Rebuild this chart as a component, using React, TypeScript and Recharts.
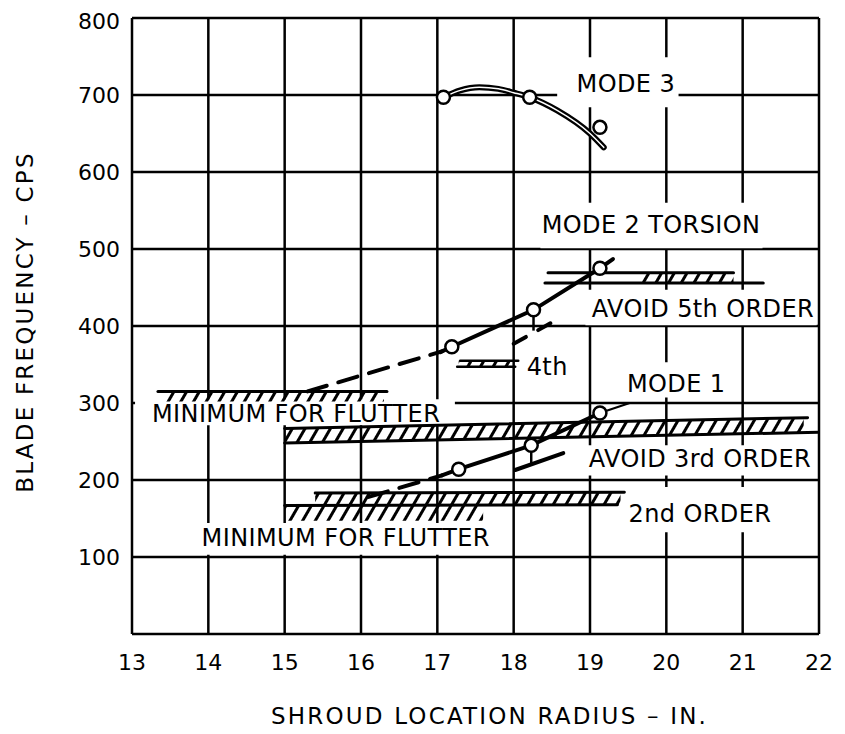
import {
  ComposedChart,
  Line,
  Area,
  Scatter,
  XAxis,
  YAxis,
  CartesianGrid,
  ReferenceArea,
  ReferenceDot,
  ReferenceLine,
  Label,
} from 'recharts'

const FONT = '"DejaVu Sans", sans-serif'

const xTicks = [13, 14, 15, 16, 17, 18, 19, 20, 21, 22]
const yTicks = [0, 100, 200, 300, 400, 500, 600, 700, 800]

// test points (open circles)
const mode3Points = [
  { x: 17.08, y: 697 },
  { x: 18.21, y: 697 },
  { x: 19.13, y: 658 },
]
const mode2Points = [
  { x: 17.19, y: 373 },
  { x: 18.26, y: 421 },
  { x: 19.13, y: 475 },
]
const mode1Points = [
  { x: 17.28, y: 214 },
  { x: 18.23, y: 245 },
  { x: 19.13, y: 287 },
]

// faired curves
const mode3Curve = [
  { x: 17.08, y: 697 },
  { x: 17.3, y: 706 },
  { x: 17.55, y: 710 },
  { x: 17.8, y: 708 },
  { x: 18.0, y: 703 },
  { x: 18.21, y: 697 },
  { x: 18.57, y: 680 },
  { x: 19.0, y: 650 },
  { x: 19.18, y: 632 },
]
const mode2Dashed = [
  { x: 15.3, y: 315 },
  { x: 17.06, y: 367 },
]
const mode2Solid = [
  { x: 17.04, y: 366 },
  { x: 17.19, y: 373 },
  { x: 18.26, y: 421 },
  { x: 19.13, y: 475 },
  { x: 19.3, y: 487 },
]
const mode2Lower = [
  { x: 18.0, y: 377 },
  { x: 18.6, y: 410 },
]
const mode2Drop = [
  { x: 18.26, y: 415 },
  { x: 18.26, y: 394 },
]
const mode1Dashed = [
  { x: 16.1, y: 178 },
  { x: 17.06, y: 206 },
]
const mode1Solid = [
  { x: 17.06, y: 206 },
  { x: 17.28, y: 214 },
  { x: 18.23, y: 245 },
  { x: 19.13, y: 287 },
]
const mode1Tail = [
  { x: 19.13, y: 287 },
  { x: 19.52, y: 300 },
]
const mode1Lower = [
  { x: 18.02, y: 213 },
  { x: 18.65, y: 235 },
]
const mode1Drop = [
  { x: 18.23, y: 240 },
  { x: 18.23, y: 222 },
]

// excitation / flutter limits
const flutterUpperLine = [
  { x: 13.34, y: 315 },
  { x: 16.34, y: 315 },
]
const flutterUpperHatch = [
  { x: 13.4, range: [302, 315] },
  { x: 16.3, range: [302, 315] },
]
const order3Top = [
  { x: 15.0, y: 267 },
  { x: 21.85, y: 281 },
]
const order3Bottom = [
  { x: 15.0, y: 248 },
  { x: 22.0, y: 262 },
]
const order3Hatch = [
  { x: 15.0, range: [248, 267] },
  { x: 21.8, range: [261, 281] },
]
const order2Top = [
  { x: 15.4, y: 183 },
  { x: 19.45, y: 184 },
]
const order2Bottom = [
  { x: 15.0, y: 167 },
  { x: 19.36, y: 168 },
]
const order2Hatch = [
  { x: 15.4, range: [167, 183] },
  { x: 19.4, range: [168, 184] },
]
const flutterLowerHatch = [
  { x: 15.0, range: [147, 167] },
  { x: 17.6, range: [147, 167] },
]
const order5Top = [
  { x: 18.45, y: 469 },
  { x: 20.88, y: 469 },
]
const order5Bottom = [
  { x: 18.41, y: 456 },
  { x: 21.27, y: 456 },
]
const order5Hatch = [
  { x: 19.66, range: [456, 469] },
  { x: 20.88, range: [456, 469] },
]
const order4Top = [
  { x: 17.3, y: 355 },
  { x: 18.06, y: 355 },
]
const order4Bottom = [
  { x: 17.26, y: 347 },
  { x: 18.02, y: 347 },
]
const order4Hatch = [
  { x: 17.28, range: [347, 355] },
  { x: 18.04, range: [347, 355] },
]

// text labels: [text, x, y] and their white boxes [x1, x2, y1, y2]
const labels: [string, number, number][] = [
  ['MODE 3', 19.47, 715],
  ['MODE 2 TORSION', 19.8, 532],
  ['AVOID 5th ORDER', 20.48, 423],
  ['4th', 18.44, 347],
  ['MODE 1', 20.13, 326],
  ['AVOID 3rd ORDER', 20.44, 228],
  ['2nd ORDER', 20.44, 156],
  ['MINIMUM FOR FLUTTER', 15.15, 286],
  ['MINIMUM FOR FLUTTER', 15.8, 125],
]
const labelBoxes: [number, number, number, number][] = [
  [18.57, 20.16, 684, 749],
  [18.35, 21.26, 501, 560],
  [18.94, 21.97, 401, 447],
  [18.11, 18.74, 335, 358],
  [19.4, 20.84, 307, 353],
  [18.87, 21.97, 206, 245],
  [19.4, 21.43, 132, 191],
  [13.04, 17.23, 271, 305],
  [13.69, 17.89, 103, 144],
]

const Ring = (props: any) => (
  <circle cx={props.cx} cy={props.cy} r={6.5} fill="#fff" stroke="#000" strokeWidth={2.5} />
)

const solid = { stroke: '#000', strokeWidth: 4, strokeLinecap: 'round' as const }
const edge = { stroke: '#000', strokeWidth: 3, strokeLinecap: 'round' as const }

export default function App() {
  const common = { dot: false, activeDot: false, isAnimationActive: false, type: 'linear' as const, dataKey: 'y' }
  const hatch = { dataKey: 'range', stroke: 'none', fill: 'url(#hatch)', fillOpacity: 1, isAnimationActive: false, activeDot: false, dot: false }
  return (
    <div style={{ fontFamily: FONT }}>
      <ComposedChart width={837} height={726} margin={{ top: 10, right: 26, left: 0, bottom: 0 }}>
        <defs>
          <pattern id="hatch" patternUnits="userSpaceOnUse" width="11" height="11" patternTransform="rotate(30)">
            <line x1="5.5" y1="0" x2="5.5" y2="11" stroke="#000" strokeWidth="3" />
          </pattern>
        </defs>
        <CartesianGrid stroke="#000" strokeWidth={2.5} />
        <XAxis
          type="number"
          dataKey="x"
          domain={[13, 22]}
          ticks={xTicks}
          allowDataOverflow
          axisLine={false}
          tickLine={false}
          tickSize={0}
          tickMargin={20}
          height={100}
          tick={{ fill: '#000', fontSize: 22, fontFamily: FONT }}
        >
          <Label
            value="SHROUD LOCATION RADIUS – IN."
            position="insideBottom"
            offset={10}
            dx={14}
            style={{ fill: '#000', fontSize: 23, fontFamily: FONT, letterSpacing: 2.2 }}
          />
        </XAxis>
        <YAxis
          type="number"
          domain={[0, 800]}
          ticks={yTicks}
          allowDataOverflow
          axisLine={false}
          tickLine={false}
          tickSize={0}
          tickMargin={12}
          width={124}
          tickFormatter={(v: number) => (v === 0 ? '' : String(v))}
          tick={{ fill: '#000', fontSize: 22, fontFamily: FONT }}
        >
          <Label
            value="BLADE FREQUENCY – CPS"
            angle={-90}
            position="insideLeft"
            offset={17}
            dy={-4}
            style={{ fill: '#000', fontSize: 23, fontFamily: FONT, letterSpacing: 2.2, textAnchor: 'middle' }}
          />
        </YAxis>

        {labelBoxes.map(([x1, x2, y1, y2], i) => (
          <ReferenceArea key={`box-${i}`} x1={x1} x2={x2} y1={y1} y2={y2} fill="#fff" fillOpacity={1} stroke="none" />
        ))}

        <Area data={flutterUpperHatch} {...hatch} />
        <Area data={order3Hatch} {...hatch} />
        <Area data={order2Hatch} {...hatch} />
        <Area data={flutterLowerHatch} {...hatch} />
        <Area data={order5Hatch} {...hatch} />
        <Area data={order4Hatch} {...hatch} />

        <Line data={flutterUpperLine} {...common} {...edge} />
        <Line data={order3Top} {...common} {...edge} />
        <Line data={order3Bottom} {...common} {...edge} />
        <Line data={order2Top} {...common} {...edge} />
        <Line data={order2Bottom} {...common} {...edge} />
        <Line data={order5Top} {...common} {...edge} />
        <Line data={order5Bottom} {...common} {...edge} />
        <Line data={order4Top} {...common} {...edge} strokeWidth={2.5} />
        <Line data={order4Bottom} {...common} {...edge} strokeWidth={2.5} />

        <Line data={mode3Curve} {...common} type="monotone" stroke="#000" strokeWidth={6} strokeLinecap="round" />
        <Line data={mode3Curve} {...common} type="monotone" stroke="#fff" strokeWidth={1.5} strokeLinecap="round" />

        <Line data={mode2Dashed} {...common} {...solid} strokeDasharray="20 12" />
        <Line data={mode2Solid} {...common} {...solid} />
        <Line data={mode2Lower} {...common} {...solid} strokeDasharray="14 14" />
        <ReferenceLine segment={mode2Drop} stroke="#000" strokeWidth={2.5} />

        <Line data={mode1Dashed} {...common} {...solid} strokeDasharray="20 12" />
        <Line data={mode1Solid} {...common} {...solid} />
        <Line data={mode1Tail} {...common} stroke="#000" strokeWidth={2} />
        <Line data={mode1Lower} {...common} {...solid} />
        <ReferenceLine segment={mode1Drop} stroke="#000" strokeWidth={2.5} />

        <Scatter data={mode3Points} dataKey="y" shape={Ring} isAnimationActive={false} />
        <Scatter data={mode2Points} dataKey="y" shape={Ring} isAnimationActive={false} />
        <Scatter data={mode1Points} dataKey="y" shape={Ring} isAnimationActive={false} />

        {labels.map(([text, x, y], i) => (
          <ReferenceDot
            key={`lbl-${i}`}
            x={x}
            y={y}
            r={0}
            fill="none"
            stroke="none"
            label={{ value: text, position: 'center', fill: '#000', fontSize: 24, fontFamily: FONT, letterSpacing: 0.4 }}
          />
        ))}
      </ComposedChart>
    </div>
  )
}
